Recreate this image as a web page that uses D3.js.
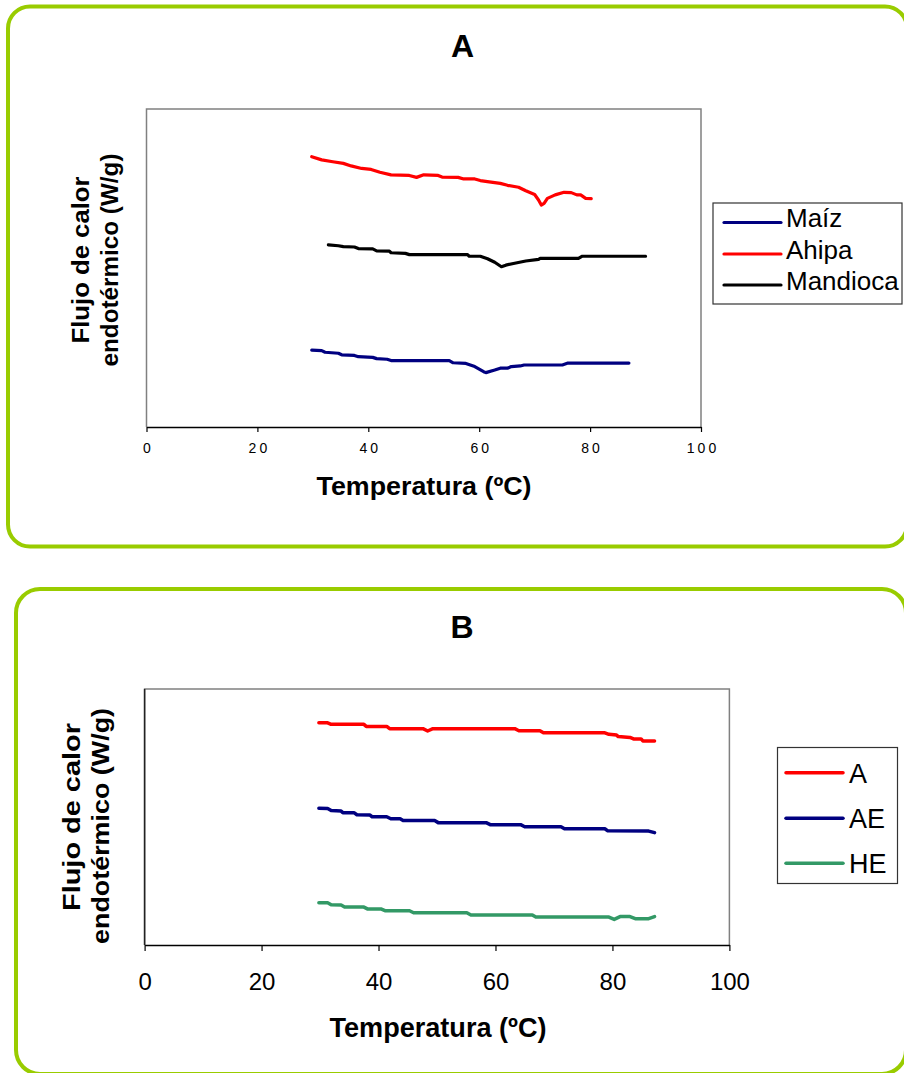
<!DOCTYPE html>
<html>
<head>
<meta charset="utf-8">
<script src="https://cdn.jsdelivr.net/npm/d3@7"></script>
<style>
  html, body { margin: 0; padding: 0; background: #ffffff; }
  svg { display: block; font-family: "Liberation Sans", Arial, sans-serif; }
</style>
</head>
<body>
<svg id="chart" width="904" height="1073"></svg>
<script>
// ---------- DATA ----------
// Panel A
const seriesA = ["Maíz", "Ahipa", "Mandioca"];
const maizTemp = [29.8, 31.6, 32.2, 34.6, 35.2, 37.5, 38.2, 40.8, 41.5, 43.4, 44.1, 54.6, 55.3, 57.6, 59.2, 60.8, 61.2, 62.8, 63.8, 65.1, 65.8, 67.4, 68.1, 75.0, 76.0, 87.0];
const maizFlow = [24.2, 24.0, 23.5, 23.2, 22.7, 22.5, 22.1, 21.9, 21.5, 21.3, 20.9, 20.9, 20.2, 20.0, 19.0, 17.4, 17.1, 17.9, 18.5, 18.5, 19.0, 19.2, 19.5, 19.5, 20.1, 20.1];
const ahipaTemp = [29.8, 31.6, 33.6, 35.5, 36.9, 38.8, 40.5, 42.1, 44.1, 47.4, 48.7, 50.0, 52.6, 53.3, 56.2, 57.2, 59.2, 60.2, 61.8, 63.8, 65.1, 67.1, 68.4, 70.0, 70.7, 71.2, 71.7, 72.3, 73.7, 75.3, 76.6, 77.6, 78.3, 79.2, 80.2];
const ahipaFlow = [85.0, 84.0, 83.4, 82.9, 82.1, 81.3, 81.0, 80.1, 79.3, 79.1, 78.5, 79.3, 79.1, 78.6, 78.5, 78.0, 78.0, 77.5, 77.1, 76.6, 76.0, 75.4, 74.3, 73.1, 71.4, 69.8, 70.3, 71.9, 73.0, 73.8, 73.7, 73.0, 73.0, 71.9, 71.8];
const mandiocaTemp = [32.8, 34.6, 35.5, 37.5, 38.2, 40.8, 41.5, 43.8, 44.1, 46.7, 47.4, 57.9, 58.2, 60.2, 61.5, 62.8, 64.0, 64.8, 66.4, 68.4, 70.7, 71.0, 77.9, 78.6, 90.0];
const mandiocaFlow = [57.3, 57.0, 56.7, 56.6, 56.1, 56.0, 55.4, 55.3, 54.8, 54.6, 54.2, 54.2, 53.7, 53.7, 52.9, 51.8, 50.4, 50.9, 51.5, 52.2, 52.7, 53.0, 53.0, 53.7, 53.7];

// Panel B
const seriesB = ["A", "AE", "HE"];
const aTemp = [29.8, 31.3, 31.9, 37.5, 37.9, 41.4, 41.9, 47.6, 48.4, 49.3, 63.3, 64.0, 67.6, 68.2, 78.7, 79.4, 80.7, 81.0, 83.0, 83.6, 84.9, 85.2, 87.2];
const aFlow = [86.8, 86.8, 86.2, 86.2, 85.4, 85.4, 84.5, 84.5, 83.6, 84.5, 84.5, 83.7, 83.7, 82.9, 82.9, 82.3, 82.0, 81.4, 81.1, 80.5, 80.5, 79.7, 79.7];
const aeTemp = [29.8, 31.3, 31.9, 33.6, 33.9, 35.8, 36.3, 38.5, 38.9, 41.4, 42.1, 43.7, 44.2, 49.6, 50.2, 58.4, 59.1, 64.3, 65.0, 71.2, 71.8, 78.7, 79.2, 86.2, 87.2];
const aeFlow = [53.4, 53.3, 52.5, 52.3, 51.7, 51.7, 50.9, 50.8, 50.1, 50.1, 49.3, 49.3, 48.6, 48.6, 47.8, 47.8, 47.0, 47.0, 46.2, 46.2, 45.4, 45.4, 44.6, 44.5, 43.9];
const heTemp = [29.8, 31.3, 31.9, 33.6, 34.2, 37.5, 38.1, 40.4, 41.1, 45.3, 46.0, 55.1, 55.8, 66.3, 66.9, 79.4, 80.3, 81.3, 83.0, 83.9, 86.2, 87.2];
const heFlow = [16.5, 16.5, 15.7, 15.6, 14.8, 14.8, 14.1, 14.1, 13.4, 13.4, 12.6, 12.6, 11.7, 11.7, 10.9, 10.9, 10.0, 11.1, 11.1, 10.3, 10.3, 11.1];

const xTicks = [0, 20, 40, 60, 80, 100];
const xDomain = [0, 100];
const yDomain = [0, 100];
const titleA = "A", titleB = "B";
const xTitle = "Temperatura (ºC)";
const yTitle1 = "Flujo de calor", yTitle2 = "endotérmico (W/g)";

// ---------- DRAW ----------
const svg = d3.select("#chart");
const FONT = '"Liberation Sans", Arial, sans-serif';
const GREEN = "#99cc00";

function zip(t, v) { return t.map((d, i) => [d, v[i]]); }

function panel(cfg) {
  const g = svg.append("g");
  // rounded frame
  g.append("rect")
    .attr("x", cfg.frame[0]).attr("y", cfg.frame[1])
    .attr("width", cfg.frame[2]).attr("height", cfg.frame[3])
    .attr("rx", cfg.frameR).attr("ry", cfg.frameR)
    .attr("fill", "none").attr("stroke", GREEN).attr("stroke-width", 4);

  const x = d3.scaleLinear().domain(xDomain).range([cfg.left, cfg.right]);
  const y = d3.scaleLinear().domain(yDomain).range([cfg.bottom, cfg.top]);

  // plot area border (gray)
  g.append("path")
    .attr("d", `M${cfg.left},${cfg.bottom}V${cfg.top}H${cfg.right}V${cfg.bottom}`)
    .attr("fill", "none").attr("stroke", "#808080").attr("stroke-width", 1.5);
  if (cfg.leftColor) {
    g.append("line").attr("x1", cfg.left).attr("x2", cfg.left)
      .attr("y1", cfg.top).attr("y2", cfg.bottom)
      .attr("stroke", cfg.leftColor).attr("stroke-width", 1.5);
  }

  // x axis
  const ax = g.append("g").attr("transform", `translate(0,${cfg.bottom})`)
    .call(d3.axisBottom(x).tickValues(xTicks).tickSize(cfg.tickLen).tickSizeOuter(0).tickPadding(cfg.tickPad).tickFormat(d3.format("d")));
  ax.select(".domain").attr("stroke", "#000").attr("stroke-width", 1.5);
  ax.selectAll(".tick line").attr("stroke", "#000").attr("stroke-width", 1.2);
  ax.selectAll(".tick text")
    .attr("font-family", FONT).attr("font-size", cfg.tickFont)
    .attr("fill", "#000")
    .attr("letter-spacing", cfg.tickSpacing)
    .attr("dx", cfg.tickSpacing / 2);

  // series lines
  const line = d3.line().x(d => x(d[0])).y(d => y(d[1])).curve(d3.curveLinear);
  cfg.series.forEach(s => {
    g.append("path").datum(zip(s.t, s.v))
      .attr("d", line).attr("fill", "none")
      .attr("stroke", s.color).attr("stroke-width", cfg.lineW)
      .attr("stroke-linejoin", "round").attr("stroke-linecap", "round");
  });

  // title
  g.append("text").attr("x", cfg.titleX).attr("y", cfg.titleY)
    .attr("text-anchor", "middle").attr("font-family", FONT)
    .attr("font-weight", "bold").attr("font-size", 32).text(cfg.title);

  // x title
  g.append("text").attr("x", cfg.xTitleX).attr("y", cfg.xTitleY)
    .attr("text-anchor", "middle").attr("font-family", FONT)
    .attr("font-weight", "bold").attr("font-size", cfg.xTitleFont)
    .attr("textLength", cfg.xTitleLen).attr("lengthAdjust", "spacingAndGlyphs")
    .text(xTitle);

  // y title (two lines, rotated)
  [[yTitle1, cfg.yl1], [yTitle2, cfg.yl2]].forEach(([txt, p]) => {
    g.append("text")
      .attr("transform", `translate(${p[0]},${p[1]}) rotate(-90)`)
      .attr("text-anchor", "middle").attr("font-family", FONT)
      .attr("font-weight", "bold").attr("font-size", cfg.yFont)
      .attr("textLength", p[2]).attr("lengthAdjust", "spacingAndGlyphs")
      .text(txt);
  });

  // legend
  const L = cfg.legend;
  g.append("rect").attr("x", L.box[0]).attr("y", L.box[1])
    .attr("width", L.box[2]).attr("height", L.box[3])
    .attr("fill", "#fff").attr("stroke", "#333").attr("stroke-width", 1.2);
  cfg.series.forEach((s, i) => {
    const ly = L.ys[i];
    g.append("line").attr("x1", L.x1).attr("x2", L.x2).attr("y1", ly).attr("y2", ly)
      .attr("stroke", s.color).attr("stroke-width", cfg.lineW).attr("stroke-linecap", "round");
    g.append("text").attr("x", L.tx).attr("y", ly + L.dy)
      .attr("font-family", FONT).attr("font-size", L.font).attr("fill", "#000")
      .text(s.name);
  });
}

panel({
  frame: [8, 6.5, 899, 540], frameR: 22,
  left: 146.5, right: 701, top: 109, bottom: 427,
  tickLen: 5, tickPad: 11, tickFont: 14, tickSpacing: 3,
  lineW: 3.2,
  series: [
    { name: seriesA[0], t: maizTemp, v: maizFlow, color: "#000080" },
    { name: seriesA[1], t: ahipaTemp, v: ahipaFlow, color: "#ff0000" },
    { name: seriesA[2], t: mandiocaTemp, v: mandiocaFlow, color: "#000000" }
  ],
  title: titleA, titleX: 462.5, titleY: 57,
  xTitleX: 424, xTitleY: 495, xTitleFont: 26, xTitleLen: 215,
  yFont: 24, yl1: [89, 260, 167], yl2: [117.5, 260, 213],
  legend: { box: [713, 203, 189, 101], x1: 724, x2: 781, tx: 786, ys: [222.5, 254, 285], dy: 4.5, font: 26 }
});

panel({
  frame: [16, 589, 890, 485], frameR: 24,
  left: 144.6, right: 729.4, top: 689, bottom: 945,
  tickLen: 6, tickPad: 22, tickFont: 24, tickSpacing: 0,
  lineW: 3.5, leftColor: "#222",
  series: [
    { name: seriesB[0], t: aTemp, v: aFlow, color: "#ff0000" },
    { name: seriesB[1], t: aeTemp, v: aeFlow, color: "#000080" },
    { name: seriesB[2], t: heTemp, v: heFlow, color: "#339966" }
  ],
  title: titleB, titleX: 462, titleY: 638,
  xTitleX: 438, xTitleY: 1036.5, xTitleFont: 27, xTitleLen: 217,
  yFont: 24, yl1: [80, 817, 188], yl2: [108.5, 826, 236],
  legend: { box: [777.5, 747.5, 120, 136], x1: 786, x2: 843, tx: 849, ys: [772.7, 818.3, 863.3], dy: 10, font: 27 }
});
</script>
</body>
</html>
